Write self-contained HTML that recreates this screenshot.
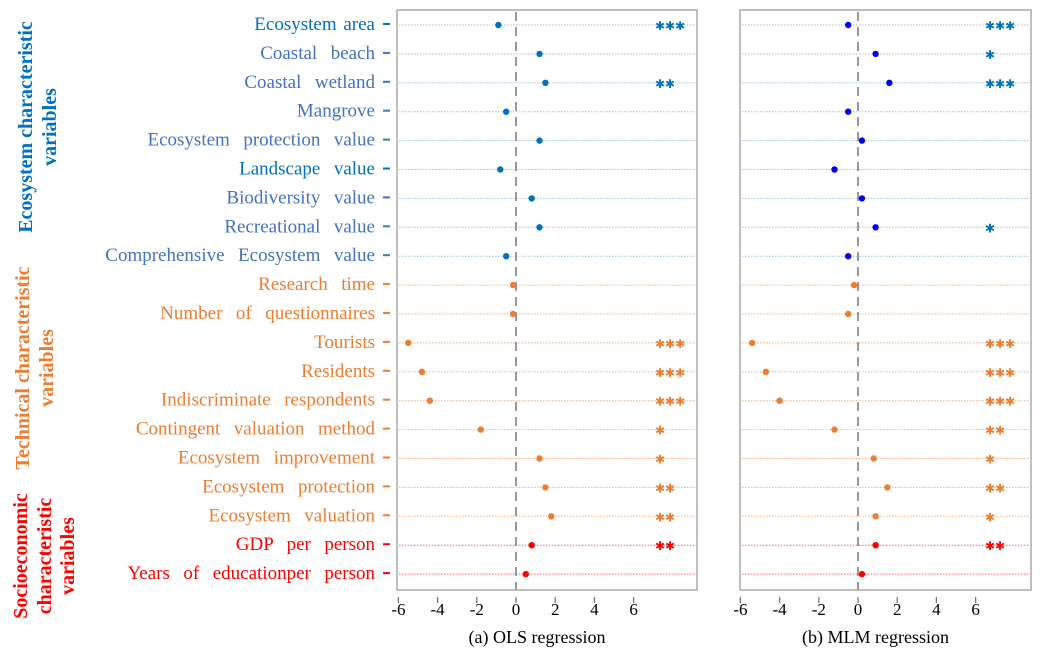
<!DOCTYPE html>
<html><head><meta charset="utf-8"><style>
html,body{margin:0;padding:0;background:#fff;}
svg{display:block;font-family:"Liberation Serif",serif;}
</style></head><body>
<svg id="chart" width="1061" height="655" viewBox="0 0 1061 655" xmlns="http://www.w3.org/2000/svg">
<g font-weight="bold" font-size="20" text-anchor="middle">
<text fill="#0070c0" transform="translate(32,127) rotate(-90)">Ecosystem characteristic</text>
<text fill="#0070c0" transform="translate(56,127) rotate(-90)">variables</text>
<text fill="#ed7d31" transform="translate(29,368) rotate(-90)">Technical characteristic</text>
<text fill="#ed7d31" transform="translate(53,368) rotate(-90)">variables</text>
<text fill="#ff0000" transform="translate(27,556) rotate(-90)">Socioeconomic</text>
<text fill="#ff0000" transform="translate(51,556) rotate(-90)">characteristic</text>
<text fill="#ff0000" transform="translate(74,556) rotate(-90)">variables</text>
</g>
<g id="labels"></g>
<g id="panelA"></g>
<g id="panelB"></g>
</svg>
<script>
const categories=["Ecosystem area","Coastal  beach","Coastal  wetland","Mangrove","Ecosystem  protection  value","Landscape  value","Biodiversity  value","Recreational  value","Comprehensive  Ecosystem  value","Research  time","Number  of  questionnaires","Tourists","Residents","Indiscriminate  respondents","Contingent  valuation  method","Ecosystem  improvement","Ecosystem  protection","Ecosystem  valuation","GDP  per  person","Years  of  educationper  person"];
const groups=["e","e","e","e","e","e","e","e","e","t","t","t","t","t","t","t","t","t","s","s"];
const olsValues=[-0.9,1.2,1.5,-0.5,1.2,-0.8,0.8,1.2,-0.5,-0.15,-0.15,-5.5,-4.8,-4.4,-1.8,1.2,1.5,1.8,0.8,0.5];
const olsStars=[3,0,2,0,0,0,0,0,0,0,0,3,3,3,1,1,2,2,2,0];
const mlmValues=[-0.5,0.9,1.6,-0.5,0.2,-1.2,0.2,0.9,-0.5,-0.2,-0.5,-5.4,-4.7,-4.0,-1.2,0.8,1.5,0.9,0.9,0.2];
const mlmStars=[3,1,3,0,0,0,0,1,0,0,0,3,3,3,2,1,2,1,2,0];
const tickValues=[-6,-4,-2,0,2,4,6];
const NS="http://www.w3.org/2000/svg";
const labelColor={e:"#4472c4",t:"#ed7d31",s:"#ff0000"};
const lineColor={e:"#9dc3e6",t:"#f4b183",s:"#ff6666"};
const dotColorA={e:"#0070c0",t:"#ed7d31",s:"#ff0000"};
const dotColorB={e:"#0000ee",t:"#ed7d31",s:"#ff0000"};
const starColor={e:"#0070c0",t:"#ed7d31",s:"#ff0000"};
function y(i){return 24+i*28.9;}
function mk(tag,attrs,parent){const el=document.createElementNS(NS,tag);for(const k in attrs)el.setAttribute(k,attrs[k]);parent.appendChild(el);return el;}
const labels=document.getElementById('labels');
categories.forEach((c,i)=>{
  let col=labelColor[groups[i]];
  if(i===0||i===5)col="#0070c0";
  const t=mk('text',{x:375,y:y(i)+6,'text-anchor':'end','font-size':19,'word-spacing':'2',fill:col},labels);
  
  
  t.style.whiteSpace='pre';
  t.textContent=c;
  const tk=mk('line',{x1:383,x2:390,y1:y(i),y2:y(i),stroke:col,'stroke-width':2},labels);
  
  
});
function panel(id,left,right,zero,vals,stars,dotCol,starX,caption){
  const g=document.getElementById(id);
  const x=v=>zero+v*19.6;
  const fr=mk('rect',{x:left,y:10,width:right-left,height:580,fill:'none',stroke:'#aaa','stroke-width':1.5},g);
  
  
  vals.forEach((v,i)=>{
    const gr=groups[i];
    const ln=mk('line',{x1:left+2,x2:right-2,y1:y(i)+1,y2:y(i)+1,stroke:lineColor[gr],'stroke-width':1,'stroke-dasharray':'1.5,1.5'},g);
    
    
  });
  const z=mk('line',{x1:zero,x2:zero,y1:12,y2:590,stroke:'#999','stroke-width':2,'stroke-dasharray':'9,6'},g);
  
  
  vals.forEach((v,i)=>{
    const gr=groups[i];
    const d=mk('circle',{cx:x(v),cy:y(i)+1,r:3.2,fill:dotCol[gr]},g);
    
    
    if(stars[i]>0){
      const s=mk('text',{x:starX,y:y(i)+6,'font-size':12,'font-family':'DejaVu Sans, sans-serif',fill:starColor[gr],'font-weight':'bold'},g);
      
      
      s.textContent='✱'.repeat(stars[i]);
    }
  });
  tickValues.forEach(t=>{
    const tk=mk('line',{x1:x(t),x2:x(t),y1:597,y2:603,stroke:'#777','stroke-width':1.3},g);
    
    
    const tl=mk('text',{x:x(t),y:615,'text-anchor':'middle','font-size':17,fill:'#000'},g);
    
    
    tl.textContent=String(t);
  });
  const cp=mk('text',{x:(left+right)/2-10,y:643,'text-anchor':'middle','font-size':18,fill:'#000'},g);
  
  
  cp.textContent=caption;
}
panel('panelA',397,697,516,olsValues,olsStars,dotColorA,655,'(a) OLS regression');
panel('panelB',740,1031,858,mlmValues,mlmStars,dotColorB,985,'(b) MLM regression');
</script>
</body></html>
